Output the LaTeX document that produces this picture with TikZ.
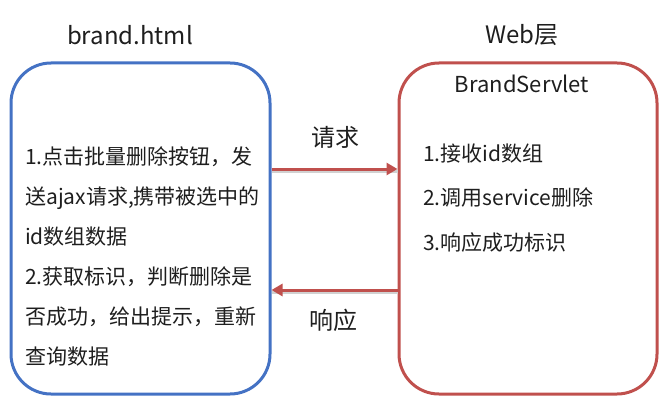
\documentclass[tikz,border=0pt]{standalone}
\usepackage{fontspec}
\setmainfont{Noto Sans CJK SC}
\usetikzlibrary{arrows.meta,positioning}
\definecolor{pageblue}{RGB}{68,114,196}
\definecolor{webred}{RGB}{192,80,77}
\definecolor{inktext}{RGB}{30,30,30}

\begin{document}
\begin{tikzpicture}[x=1pt,y=-1pt,>=Stealth,text=inktext,
  layerbox/.style={draw,line width=3pt,rounded corners=40pt,
    minimum width=259pt,minimum height=331pt,inner sep=0pt},
  heading/.style={font=\fontsize{24}{28}\selectfont},
  steps/.style={anchor=base west,align=left,inner sep=0pt},
  msgline/.style={draw=webred,line width=3pt,
    -{Triangle[length=11pt,width=12pt]},
    preaction={draw=black!18,line width=3pt,-,transform canvas={yshift=-2pt}}},
  msglabel/.style={font=\fontsize{24}{28}\selectfont}]

\useasboundingbox (0,0) rectangle (660,406);

% =====================
% Boxes
% =====================
\node[layerbox,draw=pageblue] (page) at (140.5,228.5) {};
\node[layerbox,draw=webred,minimum width=258pt] (servlet) at (528,228.5) {};

\node[heading] (pagename) at (130,35) {brand.html};
\node[heading] (webname) at (522,35) {Web层};
\node[font=\fontsize{22}{26}\selectfont] (servletname) at (522,84) {BrandServlet};

% =====================
% Steps (base = last line)
% =====================
\node[steps,font=\fontsize{21}{40}\selectfont] (pagesteps) at (25,364)
  {1.点击批量删除按钮，发\\
   送ajax请求,携带被选中的\\
   id数组数据\\
   2.获取标识，判断删除是\\
   否成功，给出提示，重新\\
   查询数据};

\node[steps,font=\fontsize{21}{44.5}\selectfont] (servletsteps) at (423,250)
  {1.接收id数组\\
   2.调用service删除\\
   3.响应成功标识};

% =====================
% Request / response
% =====================
\draw[msgline] ([yshift=59.5pt]page.east) -- ([yshift=59.5pt]servlet.west);
\draw[msgline] ([yshift=-61.5pt]servlet.west) -- ([yshift=-61.5pt]page.east);

\node[msglabel] (request) at (335,137) {请求};
\node[msglabel] (response) at (333,320) {响应};

\end{tikzpicture}
\end{document}
